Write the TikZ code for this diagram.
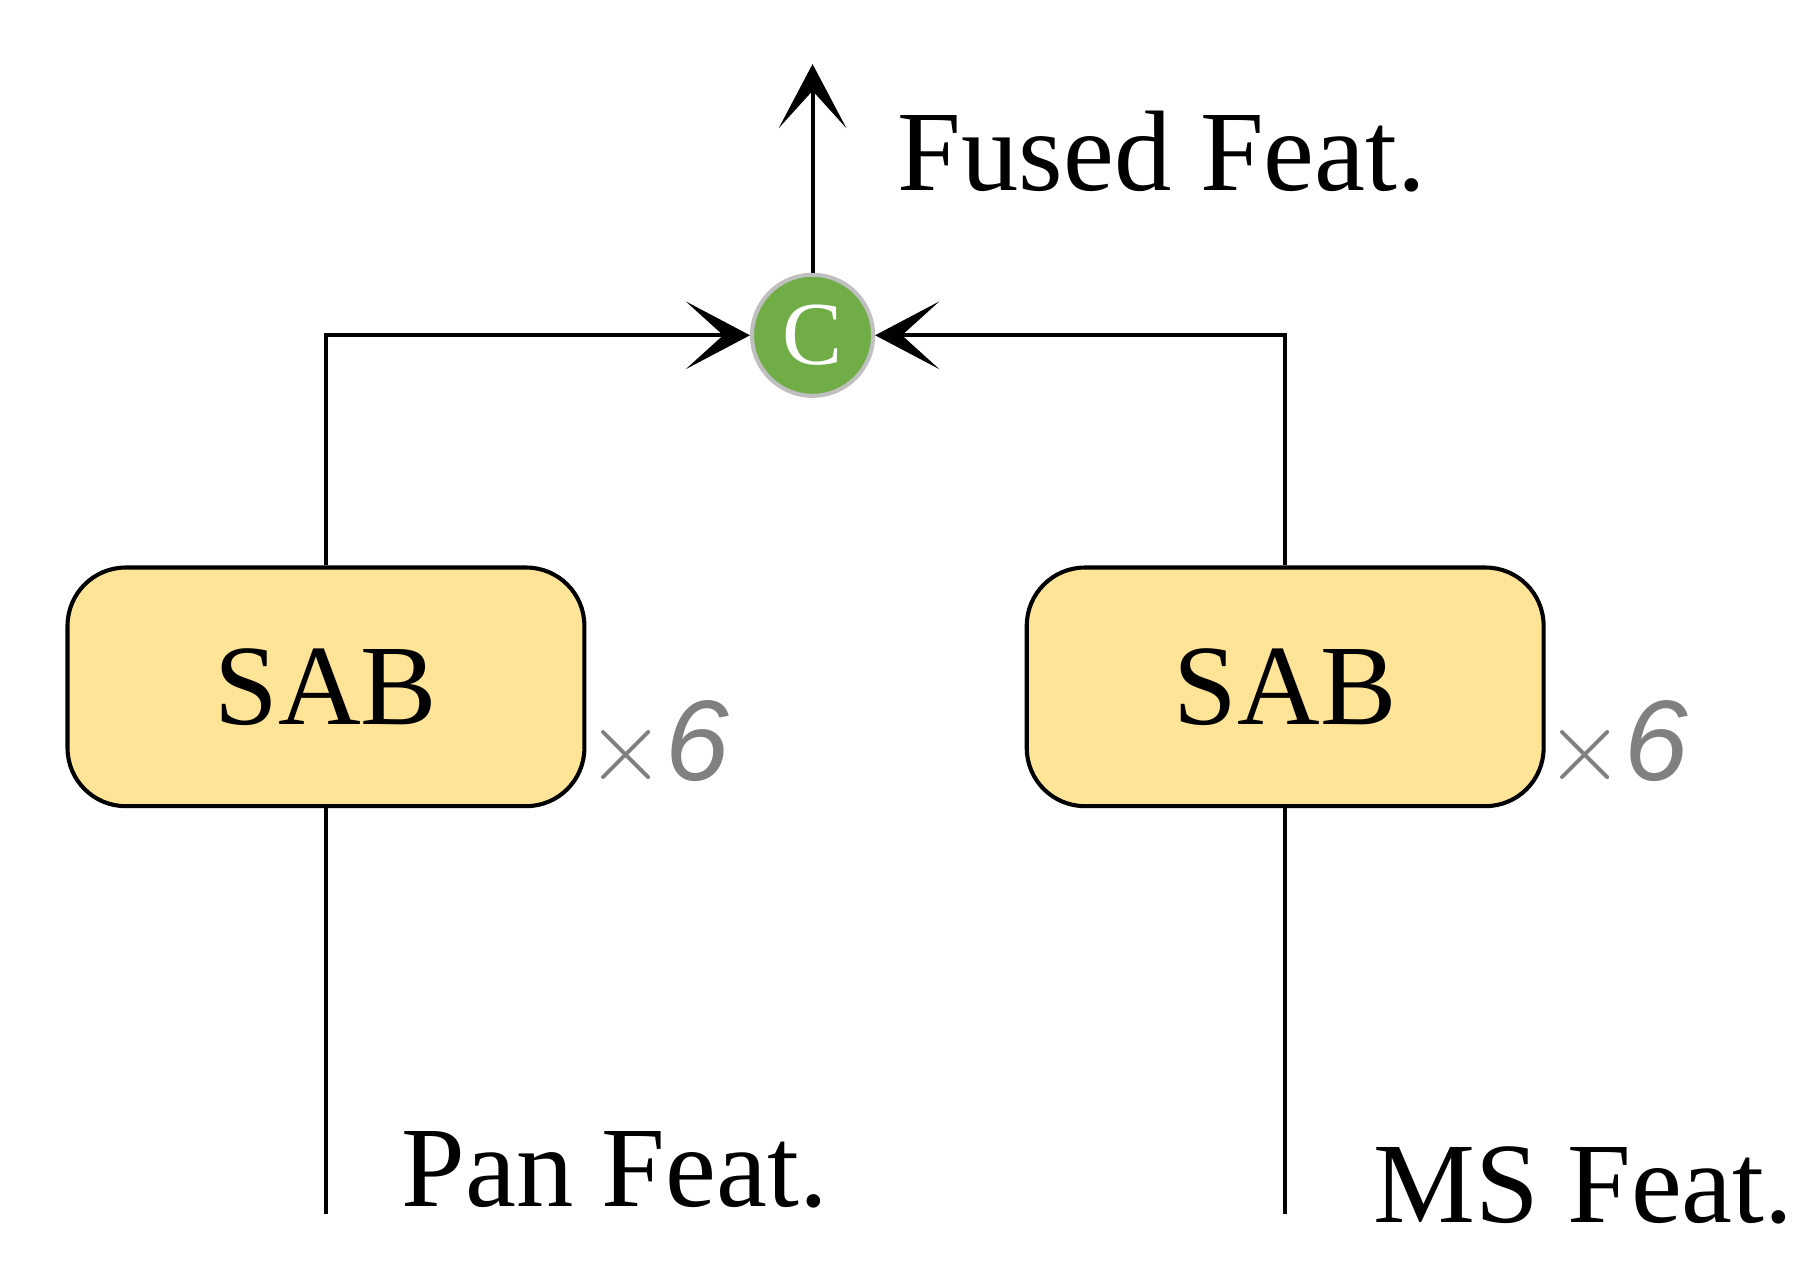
\documentclass[tikz,border=0pt]{standalone}
\usepackage{fontspec}
\setmainfont{Liberation Serif}
\newfontfamily\sansf{Liberation Sans}
\usetikzlibrary{arrows.meta}
\definecolor{sabfill}{HTML}{FDE496}
\definecolor{catgreen}{HTML}{70AD47}
\tikzstyle{arrow} = [line width=1pt,-{Stealth[length=5.5mm,width=5.8mm,inset=3.2mm]}]
\tikzstyle{line} = [line width=1pt]
\tikzstyle{sab} = [rectangle, rounded corners=0.5cm, minimum width=4.44cm, minimum height=2.05cm, text centered, draw=black, line width=1pt, fill=sabfill, font=\fontsize{28}{32}\selectfont]
\tikzstyle{cat} = [circle, minimum size=1.04cm, inner sep=0pt, fill=catgreen, draw=black!25, line width=1pt, text=white, font=\fontsize{22}{26}\selectfont]
\tikzstyle{lbl} = [font=\fontsize{28}{32}\selectfont]
\tikzstyle{rep} = [text=black!50, font=\sansf\itshape\fontsize{28}{32}\selectfont]

\begin{document}
\begin{tikzpicture}
		\useasboundingbox (0,0) rectangle (15.6,-10.96);
		\node (sabL) [sab] at (2.8,-5.9) {SAB};
		\node (sabR) [sab] at (11.04,-5.9) {SAB};
		\node (concat) [cat] at (6.98,-2.88) {C};
		\node (repL) [rep] at (5.65,-6.4) {$\times$6};
		\node (repR) [rep] at (13.89,-6.4) {$\times$6};
		\node (fused) [lbl] at (9.98,-1.3) {Fused Feat.};
		\node (pan) [lbl] at (5.28,-10.05) {Pan Feat.};
		\node (ms) [lbl] at (13.6,-10.18) {MS Feat.};
		\coordinate (panIn) at (2.8,-10.43);
		\coordinate (msIn) at (11.04,-10.43);
		\coordinate (out) at (6.98,-0.55);
		\draw [line] (panIn) -- (sabL.south);
		\draw [line] (msIn) -- (sabR.south);
		\draw [arrow] (sabL.north) |- (concat.west);
		\draw [arrow] (sabR.north) |- (concat.east);
		\draw [arrow] (concat.north) -- (out);
	\end{tikzpicture}
\end{document}
